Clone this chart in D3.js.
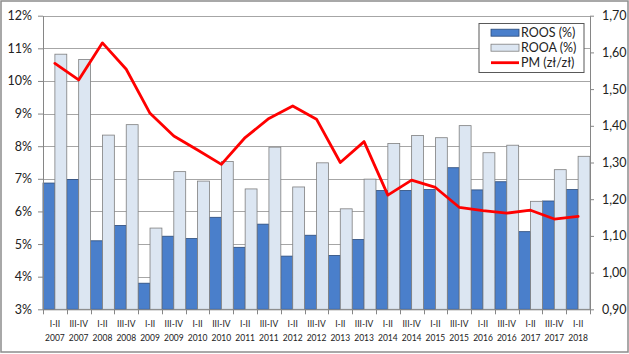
<!DOCTYPE html>
<html>
<head>
<meta charset="utf-8">
<script src="https://cdn.jsdelivr.net/npm/d3@7"></script>
<style>
  html, body { margin: 0; padding: 0; background: #fff; }
  svg { display: block; font-family: Lato, "Open Sans", sans-serif; }
</style>
</head>
<body>
<div id="chart"></div>
<script>
// categories: half-year periods
const periods = ["I-II", "III-IV"];
const categories = [
  "I-II 2007", "III-IV 2007", "I-II 2008", "III-IV 2008", "I-II 2009", "III-IV 2009",
  "I-II 2010", "III-IV 2010", "I-II 2011", "III-IV 2011", "I-II 2012", "III-IV 2012",
  "I-II 2013", "III-IV 2013", "I-II 2014", "III-IV 2014", "I-II 2015", "III-IV 2015",
  "I-II 2016", "III-IV 2016", "I-II 2017", "III-IV 2017", "I-II 2018"
];

// ROOS (%) - dark bars
const roos = [6.87, 6.98, 5.10, 5.57, 3.80, 5.24, 5.17, 5.82, 4.90, 5.61, 4.63, 5.27,
              4.65, 5.14, 6.64, 6.64, 6.67, 7.34, 6.66, 6.91, 5.38, 6.32, 6.67];
// ROOA (%) - light bars
const rooa = [10.82, 10.66, 8.34, 8.66, 5.49, 7.22, 6.93, 7.53, 6.69, 7.97, 6.75, 7.49,
              6.08, 6.99, 8.08, 8.33, 8.26, 8.63, 7.80, 8.03, 6.31, 7.28, 7.69];
// PM (zł/zł) - red line, right axis
const pm = [1.570, 1.525, 1.626, 1.554, 1.434, 1.372, 1.334, 1.295, 1.368, 1.420, 1.454, 1.418,
            1.300, 1.357, 1.211, 1.252, 1.232, 1.178, 1.169, 1.162, 1.170, 1.146, 1.153];

const leftTicks = [3, 4, 5, 6, 7, 8, 9, 10, 11, 12];
const rightTicks = [0.9, 1.0, 1.1, 1.2, 1.3, 1.4, 1.5, 1.6, 1.7];

const width = 629, height = 354;
const plot = { left: 43, right: 590, top: 15.7, bottom: 309.3 };

const svg = d3.select("#chart").append("svg")
  .attr("width", width)
  .attr("height", height);

svg.append("rect")
  .attr("x", 0).attr("y", 0)
  .attr("width", width).attr("height", height)
  .attr("fill", "#fff");

// chart area border
svg.append("rect")
  .attr("x", 1).attr("y", 1)
  .attr("width", width - 2).attr("height", height - 3)
  .attr("fill", "none")
  .attr("stroke", "#8c8c8c")
  .attr("stroke-width", 1.5);

const x = d3.scaleBand()
  .domain(categories)
  .range([plot.left, plot.right])
  .padding(0);

const xSeries = d3.scaleBand()
  .domain(["ROOS", "ROOA"])
  .range([0, x.bandwidth()])
  .padding(0);

const yLeft = d3.scaleLinear().domain([3, 12]).range([plot.bottom, plot.top]);
const yRight = d3.scaleLinear().domain([0.9, 1.7]).range([plot.bottom, plot.top]);

// gridlines
svg.append("g")
  .selectAll("line")
  .data(leftTicks.slice(1))
  .enter()
  .append("line")
  .attr("x1", plot.left).attr("x2", plot.right)
  .attr("y1", d => Math.round(yLeft(d)) + 0.5)
  .attr("y2", d => Math.round(yLeft(d)) + 0.5)
  .attr("stroke", "#a6a6a6")
  .attr("stroke-width", 1);

// bars
const rows = categories.map((c, i) => ({ cat: c, roos: roos[i], rooa: rooa[i], pm: pm[i] }));

svg.append("g").selectAll("rect")
  .data(rows)
  .enter()
  .append("rect")
  .attr("x", d => x(d.cat) + xSeries("ROOS"))
  .attr("y", d => yLeft(d.roos))
  .attr("width", xSeries.bandwidth())
  .attr("height", d => yLeft(3) - yLeft(d.roos))
  .attr("fill", "#4a7fcb")
  .attr("stroke", "#2a4a7a")
  .attr("stroke-width", 0.8);

svg.append("g").selectAll("rect")
  .data(rows)
  .enter()
  .append("rect")
  .attr("x", d => x(d.cat) + xSeries("ROOA"))
  .attr("y", d => yLeft(d.rooa))
  .attr("width", xSeries.bandwidth())
  .attr("height", d => yLeft(3) - yLeft(d.rooa))
  .attr("fill", "#dce6f2")
  .attr("stroke", "#7f7f7f")
  .attr("stroke-width", 0.8);

// PM line
const line = d3.line()
  .x(d => x(d.cat) + x.bandwidth() / 2)
  .y(d => yRight(d.pm));

svg.append("path")
  .datum(rows)
  .attr("d", line)
  .attr("fill", "none")
  .attr("stroke", "#ff0000")
  .attr("stroke-width", 2.8)
  .attr("stroke-linejoin", "round")
  .attr("stroke-linecap", "round");

// left axis
const leftAxis = svg.append("g")
  .attr("transform", `translate(${plot.left},0)`)
  .call(d3.axisLeft(yLeft)
    .tickValues(leftTicks)
    .tickSize(5)
    .tickSizeOuter(0)
    .tickPadding(6)
    .tickFormat(d => d + "%"));

// right axis
const rightAxis = svg.append("g")
  .attr("transform", `translate(${plot.right},0)`)
  .call(d3.axisRight(yRight)
    .tickValues(rightTicks)
    .tickSize(4)
    .tickSizeOuter(0)
    .tickPadding(8)
    .tickFormat(d => d3.format(".2f")(d).replace(".", ",")));

[leftAxis, rightAxis].forEach(ax => {
  ax.select(".domain").attr("stroke", "#868686");
  ax.selectAll(".tick line").attr("stroke", "#868686");
  ax.selectAll(".tick text")
    .attr("font-family", "Lato, sans-serif")
    .attr("font-size", "12.5px")
    .attr("fill", "#222");
});

// bottom axis: labels centered, ticks between categories
const bottomAxis = svg.append("g")
  .attr("transform", `translate(0,${plot.bottom})`)
  .call(d3.axisBottom(x).tickSize(0).tickSizeOuter(0).tickPadding(11));

bottomAxis.select(".domain").attr("stroke", "#868686");

bottomAxis.selectAll(".tick text")
  .attr("font-family", "Lato, sans-serif")
  .attr("font-size", "10px")
  .attr("fill", "#222")
  .attr("transform", "scale(0.85,1)")
  .each(function(d) {
    const parts = d.split(" ");
    const t = d3.select(this).text(null);
    t.append("tspan").attr("x", 0).attr("dy", "0.71em").text(parts[0]);
    t.append("tspan").attr("x", 0).attr("dy", "1.35em").text(parts[1]);
  });

svg.append("g").selectAll("line")
  .data(categories.concat([null]))
  .enter()
  .append("line")
  .attr("x1", (d, i) => d ? Math.round(x(d)) + 0.5 : plot.right + 0.5)
  .attr("x2", (d, i) => d ? Math.round(x(d)) + 0.5 : plot.right + 0.5)
  .attr("y1", plot.bottom)
  .attr("y2", plot.bottom + 5)
  .attr("stroke", "#868686");

// legend
const legend = svg.append("g").attr("transform", "translate(479,23.5)");
legend.append("rect")
  .attr("width", 105).attr("height", 49)
  .attr("fill", "#fff")
  .attr("stroke", "#595959")
  .attr("stroke-width", 1);

const legendItems = [
  { name: "ROOS (%)", type: "bar", fill: "#4a7fcb", stroke: "#2a4a7a" },
  { name: "ROOA (%)", type: "bar", fill: "#dce6f2", stroke: "#7f7f7f" },
  { name: "PM (zł/zł)", type: "line", fill: "#ff0000" }
];

legendItems.forEach((item, i) => {
  const cy = 9.2 + i * 15;
  if (item.type === "bar") {
    legend.append("rect")
      .attr("x", 12).attr("y", cy - 3.5)
      .attr("width", 28).attr("height", 7)
      .attr("fill", item.fill)
      .attr("stroke", item.stroke)
      .attr("stroke-width", 0.8);
  } else {
    legend.append("line")
      .attr("x1", 12).attr("x2", 40)
      .attr("y1", cy).attr("y2", cy)
      .attr("stroke", item.fill)
      .attr("stroke-width", 2.8);
  }
  legend.append("text")
    .attr("x", 42)
    .attr("y", cy)
    .attr("dy", "0.36em")
    .attr("font-size", "12.5px")
    .attr("fill", "#222")
    .text(item.name);
});
</script>
</body>
</html>
